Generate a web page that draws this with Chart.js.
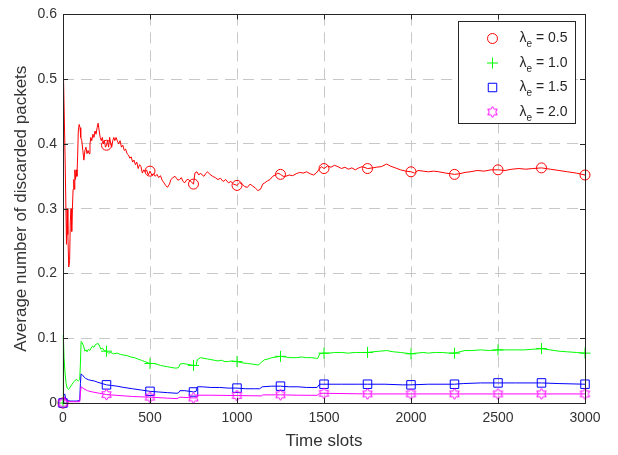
<!DOCTYPE html>
<html>
<head>
<meta charset="utf-8">
<script src="https://cdn.jsdelivr.net/npm/chart.js@4/dist/chart.umd.min.js"></script>
<style>
  html, body { margin: 0; padding: 0; background: #ffffff; }
  #wrap { width: 618px; height: 455px; position: relative; }
</style>
</head>
<body>
<div id="wrap"><canvas id="c" width="618" height="455"></canvas></div>
<script>
// Arrival rates shown in the legend
const lambdaLabels = ['0.5', '1.0', '1.5', '2.0'];

// Axis ticks
const xTicks = [0, 500, 1000, 1500, 2000, 2500, 3000];
const yTicks = [0, 0.1, 0.2, 0.3, 0.4, 0.5, 0.6];

// Marker spacing along the time axis (time slots)
const markerStep = 250;

// Average number of discarded packets, lambda_e = 0.5
const t05 = [0, 3, 12, 20, 24, 28, 33, 38, 42, 46, 50, 54, 58, 62, 65, 68, 72, 76, 80, 84, 88, 93, 98, 102, 108, 114, 120, 126, 132, 138, 144, 150, 155, 160, 165, 172, 178, 184, 190, 196, 202, 208, 214, 220, 226, 232, 238, 244, 250, 256, 262, 268, 274, 280, 286, 292, 298, 305, 312, 320, 328, 336, 344, 352, 360, 368, 376, 384, 392, 400, 408, 416, 424, 432, 440, 448, 456, 464, 472, 480, 490, 500, 510, 520, 530, 540, 550, 560, 570, 580, 590, 600, 612, 620, 632, 644, 652, 660, 670, 680, 690, 700, 712, 720, 735, 750, 758, 770, 780, 790, 800, 810, 820, 830, 845, 860, 875, 890, 905, 920, 935, 950, 965, 980, 1000, 1015, 1030, 1045, 1060, 1075, 1090, 1105, 1120, 1135, 1148, 1160, 1175, 1190, 1205, 1220, 1235, 1250, 1265, 1280, 1300, 1320, 1340, 1360, 1380, 1400, 1420, 1440, 1455, 1470, 1485, 1500, 1520, 1540, 1560, 1580, 1600, 1620, 1640, 1660, 1680, 1700, 1720, 1750, 1780, 1800, 1830, 1860, 1880, 1910, 1940, 1970, 2000, 2020, 2040, 2070, 2100, 2130, 2160, 2200, 2250, 2280, 2310, 2340, 2380, 2420, 2460, 2500, 2540, 2580, 2620, 2660, 2700, 2750, 2800, 2850, 2900, 2950, 3000];
const y05 = [0, 0.5, 0.38, 0.245, 0.3, 0.26, 0.21, 0.22, 0.28, 0.3, 0.265, 0.3, 0.33, 0.345, 0.33, 0.36, 0.345, 0.36, 0.35, 0.38, 0.42, 0.43, 0.425, 0.41, 0.405, 0.39, 0.375, 0.39, 0.395, 0.385, 0.39, 0.385, 0.4, 0.41, 0.405, 0.415, 0.41, 0.42, 0.415, 0.425, 0.432, 0.42, 0.41, 0.405, 0.41, 0.4, 0.405, 0.395, 0.398, 0.405, 0.395, 0.41, 0.4, 0.395, 0.405, 0.41, 0.405, 0.41, 0.405, 0.4, 0.405, 0.395, 0.398, 0.39, 0.392, 0.385, 0.383, 0.378, 0.38, 0.372, 0.375, 0.368, 0.372, 0.362, 0.368, 0.365, 0.355, 0.36, 0.357, 0.36, 0.352, 0.358, 0.352, 0.354, 0.35, 0.353, 0.348, 0.351, 0.344, 0.34, 0.336, 0.333, 0.338, 0.345, 0.348, 0.35, 0.347, 0.344, 0.345, 0.348, 0.342, 0.34, 0.345, 0.345, 0.342, 0.338, 0.355, 0.357, 0.352, 0.355, 0.352, 0.35, 0.354, 0.357, 0.353, 0.35, 0.348, 0.345, 0.347, 0.342, 0.345, 0.34, 0.342, 0.338, 0.336, 0.34, 0.338, 0.334, 0.333, 0.338, 0.335, 0.332, 0.328, 0.33, 0.338, 0.34, 0.343, 0.345, 0.35, 0.352, 0.355, 0.353, 0.35, 0.35, 0.352, 0.351, 0.354, 0.356, 0.355, 0.357, 0.354, 0.352, 0.355, 0.36, 0.365, 0.362, 0.366, 0.364, 0.367, 0.365, 0.362, 0.364, 0.361, 0.363, 0.36, 0.363, 0.365, 0.362, 0.363, 0.364, 0.365, 0.369, 0.366, 0.363, 0.36, 0.358, 0.357, 0.355, 0.359, 0.358, 0.357, 0.358, 0.357, 0.355, 0.353, 0.354, 0.356, 0.357, 0.359, 0.358, 0.36, 0.36, 0.359, 0.361, 0.362, 0.361, 0.362, 0.363, 0.361, 0.359, 0.357, 0.355, 0.352];

// lambda_e = 1.0
const t10 = [0, 2, 6, 12, 18, 24, 32, 40, 50, 60, 70, 78, 88, 96, 100, 104, 110, 118, 126, 132, 138, 146, 154, 162, 170, 178, 186, 194, 202, 210, 218, 226, 236, 250, 262, 275, 290, 310, 330, 350, 370, 390, 410, 430, 450, 470, 490, 500, 520, 540, 560, 580, 600, 620, 640, 655, 665, 672, 690, 710, 730, 750, 765, 772, 790, 810, 830, 850, 870, 890, 910, 930, 950, 970, 1000, 1030, 1060, 1090, 1110, 1125, 1140, 1160, 1180, 1200, 1225, 1250, 1280, 1310, 1340, 1370, 1400, 1430, 1455, 1465, 1475, 1500, 1530, 1560, 1600, 1640, 1680, 1720, 1750, 1780, 1820, 1860, 1900, 1940, 1970, 2000, 2030, 2070, 2100, 2140, 2180, 2220, 2250, 2280, 2310, 2350, 2400, 2450, 2500, 2550, 2600, 2650, 2700, 2750, 2800, 2850, 2900, 2950, 3000];
const y10 = [0, 0.105, 0.07, 0.045, 0.03, 0.023, 0.021, 0.024, 0.028, 0.032, 0.035, 0.036, 0.034, 0.036, 0.06, 0.095, 0.093, 0.088, 0.08, 0.082, 0.079, 0.083, 0.081, 0.085, 0.088, 0.086, 0.09, 0.091, 0.092, 0.088, 0.083, 0.085, 0.081, 0.08, 0.077, 0.078, 0.076, 0.077, 0.075, 0.074, 0.073, 0.071, 0.07, 0.068, 0.066, 0.064, 0.062, 0.061, 0.061, 0.06, 0.058, 0.057, 0.056, 0.055, 0.054, 0.054, 0.055, 0.06, 0.061, 0.06, 0.059, 0.058, 0.058, 0.067, 0.07, 0.069, 0.068, 0.067, 0.066, 0.065, 0.066, 0.064, 0.064, 0.065, 0.064, 0.062, 0.061, 0.06, 0.059, 0.059, 0.063, 0.067, 0.068, 0.07, 0.071, 0.072, 0.071, 0.07, 0.07, 0.071, 0.07, 0.07, 0.069, 0.069, 0.076, 0.077, 0.077, 0.078, 0.078, 0.077, 0.078, 0.078, 0.078, 0.079, 0.08, 0.081, 0.079, 0.078, 0.077, 0.076, 0.077, 0.078, 0.077, 0.078, 0.078, 0.077, 0.077, 0.079, 0.081, 0.081, 0.082, 0.081, 0.082, 0.082, 0.082, 0.082, 0.083, 0.084, 0.082, 0.08, 0.079, 0.078, 0.077];

// lambda_e = 1.5
const t15 = [0, 4, 10, 16, 24, 40, 60, 80, 96, 100, 104, 115, 130, 145, 160, 180, 200, 225, 250, 280, 310, 350, 400, 450, 500, 550, 600, 655, 665, 672, 700, 730, 750, 765, 772, 800, 850, 900, 950, 1000, 1050, 1100, 1130, 1145, 1200, 1250, 1300, 1350, 1400, 1460, 1475, 1500, 1600, 1700, 1750, 1850, 1950, 2000, 2100, 2250, 2300, 2400, 2500, 2600, 2750, 2850, 3000];
const y15 = [0, 0.012, 0.014, 0.006, 0.004, 0.003, 0.003, 0.003, 0.004, 0.03, 0.045, 0.042, 0.038, 0.036, 0.035, 0.034, 0.032, 0.03, 0.028, 0.027, 0.026, 0.024, 0.022, 0.02, 0.018, 0.017, 0.016, 0.015, 0.016, 0.019, 0.019, 0.018, 0.017, 0.018, 0.025, 0.025, 0.024, 0.024, 0.023, 0.023, 0.022, 0.022, 0.022, 0.025, 0.026, 0.026, 0.025, 0.025, 0.024, 0.024, 0.029, 0.029, 0.029, 0.029, 0.029, 0.029, 0.028, 0.028, 0.029, 0.029, 0.03, 0.031, 0.031, 0.031, 0.031, 0.03, 0.029];

// lambda_e = 2.0
const t20 = [0, 4, 10, 16, 24, 60, 96, 100, 104, 120, 140, 170, 210, 250, 300, 400, 500, 600, 655, 672, 750, 765, 772, 850, 1000, 1140, 1150, 1250, 1350, 1460, 1475, 1500, 1750, 2000, 2250, 2500, 2750, 3000];
const y20 = [0, 0.008, 0.009, 0.004, 0.002, 0.002, 0.002, 0.015, 0.025, 0.022, 0.019, 0.017, 0.015, 0.013, 0.012, 0.01, 0.009, 0.0075, 0.0068, 0.009, 0.0078, 0.008, 0.012, 0.012, 0.0115, 0.011, 0.0125, 0.0126, 0.012, 0.0118, 0.015, 0.015, 0.014, 0.014, 0.014, 0.014, 0.014, 0.014];

const seriesColors = ['#ff0000', '#00ff00', '#0000ff', '#ff00ff'];
const textColor = '#333333';
const axisColor = '#262626';
const gridColor = '#c8c8c8';
const fontFamily = '"Liberation Sans", Arial, Helvetica, sans-serif';

// Hollow six-pointed star used as the marker of the last series
function makeHexagram(color) {
  const s = 13, c = document.createElement('canvas');
  c.width = s; c.height = s;
  const g = c.getContext('2d');
  g.strokeStyle = color; g.lineWidth = 1;
  g.beginPath();
  for (let i = 0; i < 12; i++) {
    const r = i % 2 === 0 ? 5.5 : 3.2;
    const a = -Math.PI / 2 + i * Math.PI / 6;
    const px = s / 2 + r * Math.cos(a), py = s / 2 + r * Math.sin(a);
    if (i === 0) g.moveTo(px, py); else g.lineTo(px, py);
  }
  g.closePath();
  g.stroke();
  return c;
}

const markerStyles = [
  { pointStyle: 'circle', radius: 5 },
  { pointStyle: 'cross', radius: 5.5 },
  { pointStyle: 'rect', radius: 6 },
  { pointStyle: makeHexagram(seriesColors[3]), radius: 6 }
];

function toPoints(ts, ys) { return ts.map((t, i) => ({ x: t, y: ys[i] })); }

const seriesData = [toPoints(t05, y05), toPoints(t10, y10), toPoints(t15, y15), toPoints(t20, y20)];

const datasets = seriesData.map((pts, k) => ({
  label: 'λe = ' + lambdaLabels[k],
  data: pts,
  borderColor: seriesColors[k],
  backgroundColor: 'rgba(0,0,0,0)',
  borderWidth: 1,
  tension: 0,
  pointStyle: markerStyles[k].pointStyle,
  pointBorderColor: seriesColors[k],
  pointBackgroundColor: 'rgba(0,0,0,0)',
  pointBorderWidth: 1,
  pointRadius: (c) => (c.raw && c.raw.x % markerStep === 0) ? markerStyles[k].radius : 0,
  pointHoverRadius: (c) => (c.raw && c.raw.x % markerStep === 0) ? markerStyles[k].radius : 0,
  clip: 8,
  order: 3 - k
}));

// Box around the plot, inward tick marks and the boxed legend
const framePlugin = {
  id: 'frame',
  afterDatasetsDraw(chart) {
    const { ctx, chartArea: a, scales } = chart;
    ctx.save();
    ctx.strokeStyle = axisColor;
    ctx.lineWidth = 1;
    ctx.beginPath();
    const tl = 5;
    xTicks.forEach(v => {
      const px = Math.round(scales.x.getPixelForValue(v)) + 0.5;
      ctx.moveTo(px, a.bottom); ctx.lineTo(px, a.bottom - tl);
      ctx.moveTo(px, a.top); ctx.lineTo(px, a.top + tl);
    });
    yTicks.forEach(v => {
      const py = Math.round(scales.y.getPixelForValue(v)) + 0.5;
      ctx.moveTo(a.left, py); ctx.lineTo(a.left + tl, py);
      ctx.moveTo(a.right, py); ctx.lineTo(a.right - tl, py);
    });
    ctx.stroke();
    ctx.strokeRect(Math.round(a.left) + 0.5, Math.round(a.top) + 0.5,
                   Math.round(a.right - a.left), Math.round(a.bottom - a.top));

    // legend
    const bw = 117, bh = 102;
    const bx = Math.round(a.right - 10 - bw) + 0.5, by = Math.round(a.top + 7) + 0.5;
    ctx.fillStyle = '#ffffff';
    ctx.fillRect(bx, by, bw, bh);
    ctx.strokeStyle = axisColor;
    ctx.strokeRect(bx, by, bw, bh);
    chart.data.datasets.forEach((ds, k) => {
      const cy = by + 17 + k * 24.5;
      const mx = bx + 34;
      ctx.strokeStyle = seriesColors[k];
      ctx.fillStyle = 'rgba(0,0,0,0)';
      ctx.lineWidth = 1;
      if (Chart.helpers && Chart.helpers.drawPoint) {
        Chart.helpers.drawPoint(ctx, { pointStyle: markerStyles[k].pointStyle, radius: markerStyles[k].radius, borderWidth: 1, rotation: 0 }, mx, cy);
      }
      ctx.fillStyle = axisColor;
      ctx.textBaseline = 'middle';
      ctx.textAlign = 'left';
      ctx.font = '14px ' + fontFamily;
      let tx = bx + 61;
      ctx.fillText('λ', tx, cy);
      tx += ctx.measureText('λ').width;
      ctx.font = '10px ' + fontFamily;
      ctx.fillText('e', tx, cy + 6);
      tx += ctx.measureText('e').width;
      ctx.font = '14px ' + fontFamily;
      ctx.fillText(' = ' + lambdaLabels[k], tx, cy);
    });
    ctx.restore();
  }
};

new Chart(document.getElementById('c'), {
  type: 'line',
  data: { datasets },
  options: {
    responsive: false,
    animation: false,
    events: [],
    layout: { padding: { top: 6, right: 33, left: 0, bottom: 0 } },
    plugins: { legend: { display: false }, tooltip: { enabled: false } },
    scales: {
      x: {
        type: 'linear',
        min: 0, max: 3000,
        afterFit: (s) => { s.height = 52; },
        afterBuildTicks: (s) => { s.ticks = xTicks.map(v => ({ value: v })); },
        ticks: { color: textColor, font: { family: fontFamily, size: 14 }, padding: 7, maxRotation: 0,
                 callback: (v) => String(v) },
        grid: { color: gridColor, lineWidth: 1, drawTicks: false },
        border: { display: false, dash: [11, 7] },
        title: { display: true, text: 'Time slots', color: textColor,
                 font: { family: fontFamily, size: 17 }, padding: { top: 0, bottom: 3 } }
      },
      y: {
        type: 'linear',
        min: 0, max: 0.6,
        afterFit: (s) => { s.width = 63; },
        afterBuildTicks: (s) => { s.ticks = yTicks.map(v => ({ value: v })); },
        ticks: { color: textColor, font: { family: fontFamily, size: 14 }, padding: 6,
                 callback: (v) => String(Math.round(v * 10) / 10) },
        grid: { color: gridColor, lineWidth: 1, drawTicks: false },
        border: { display: false, dash: [11, 7] },
        title: { display: true, text: 'Average number of discarded packets', color: textColor,
                 font: { family: fontFamily, size: 17 }, padding: { top: 11, bottom: 0 } }
      }
    }
  },
  plugins: [framePlugin]
});
</script>
</body>
</html>
